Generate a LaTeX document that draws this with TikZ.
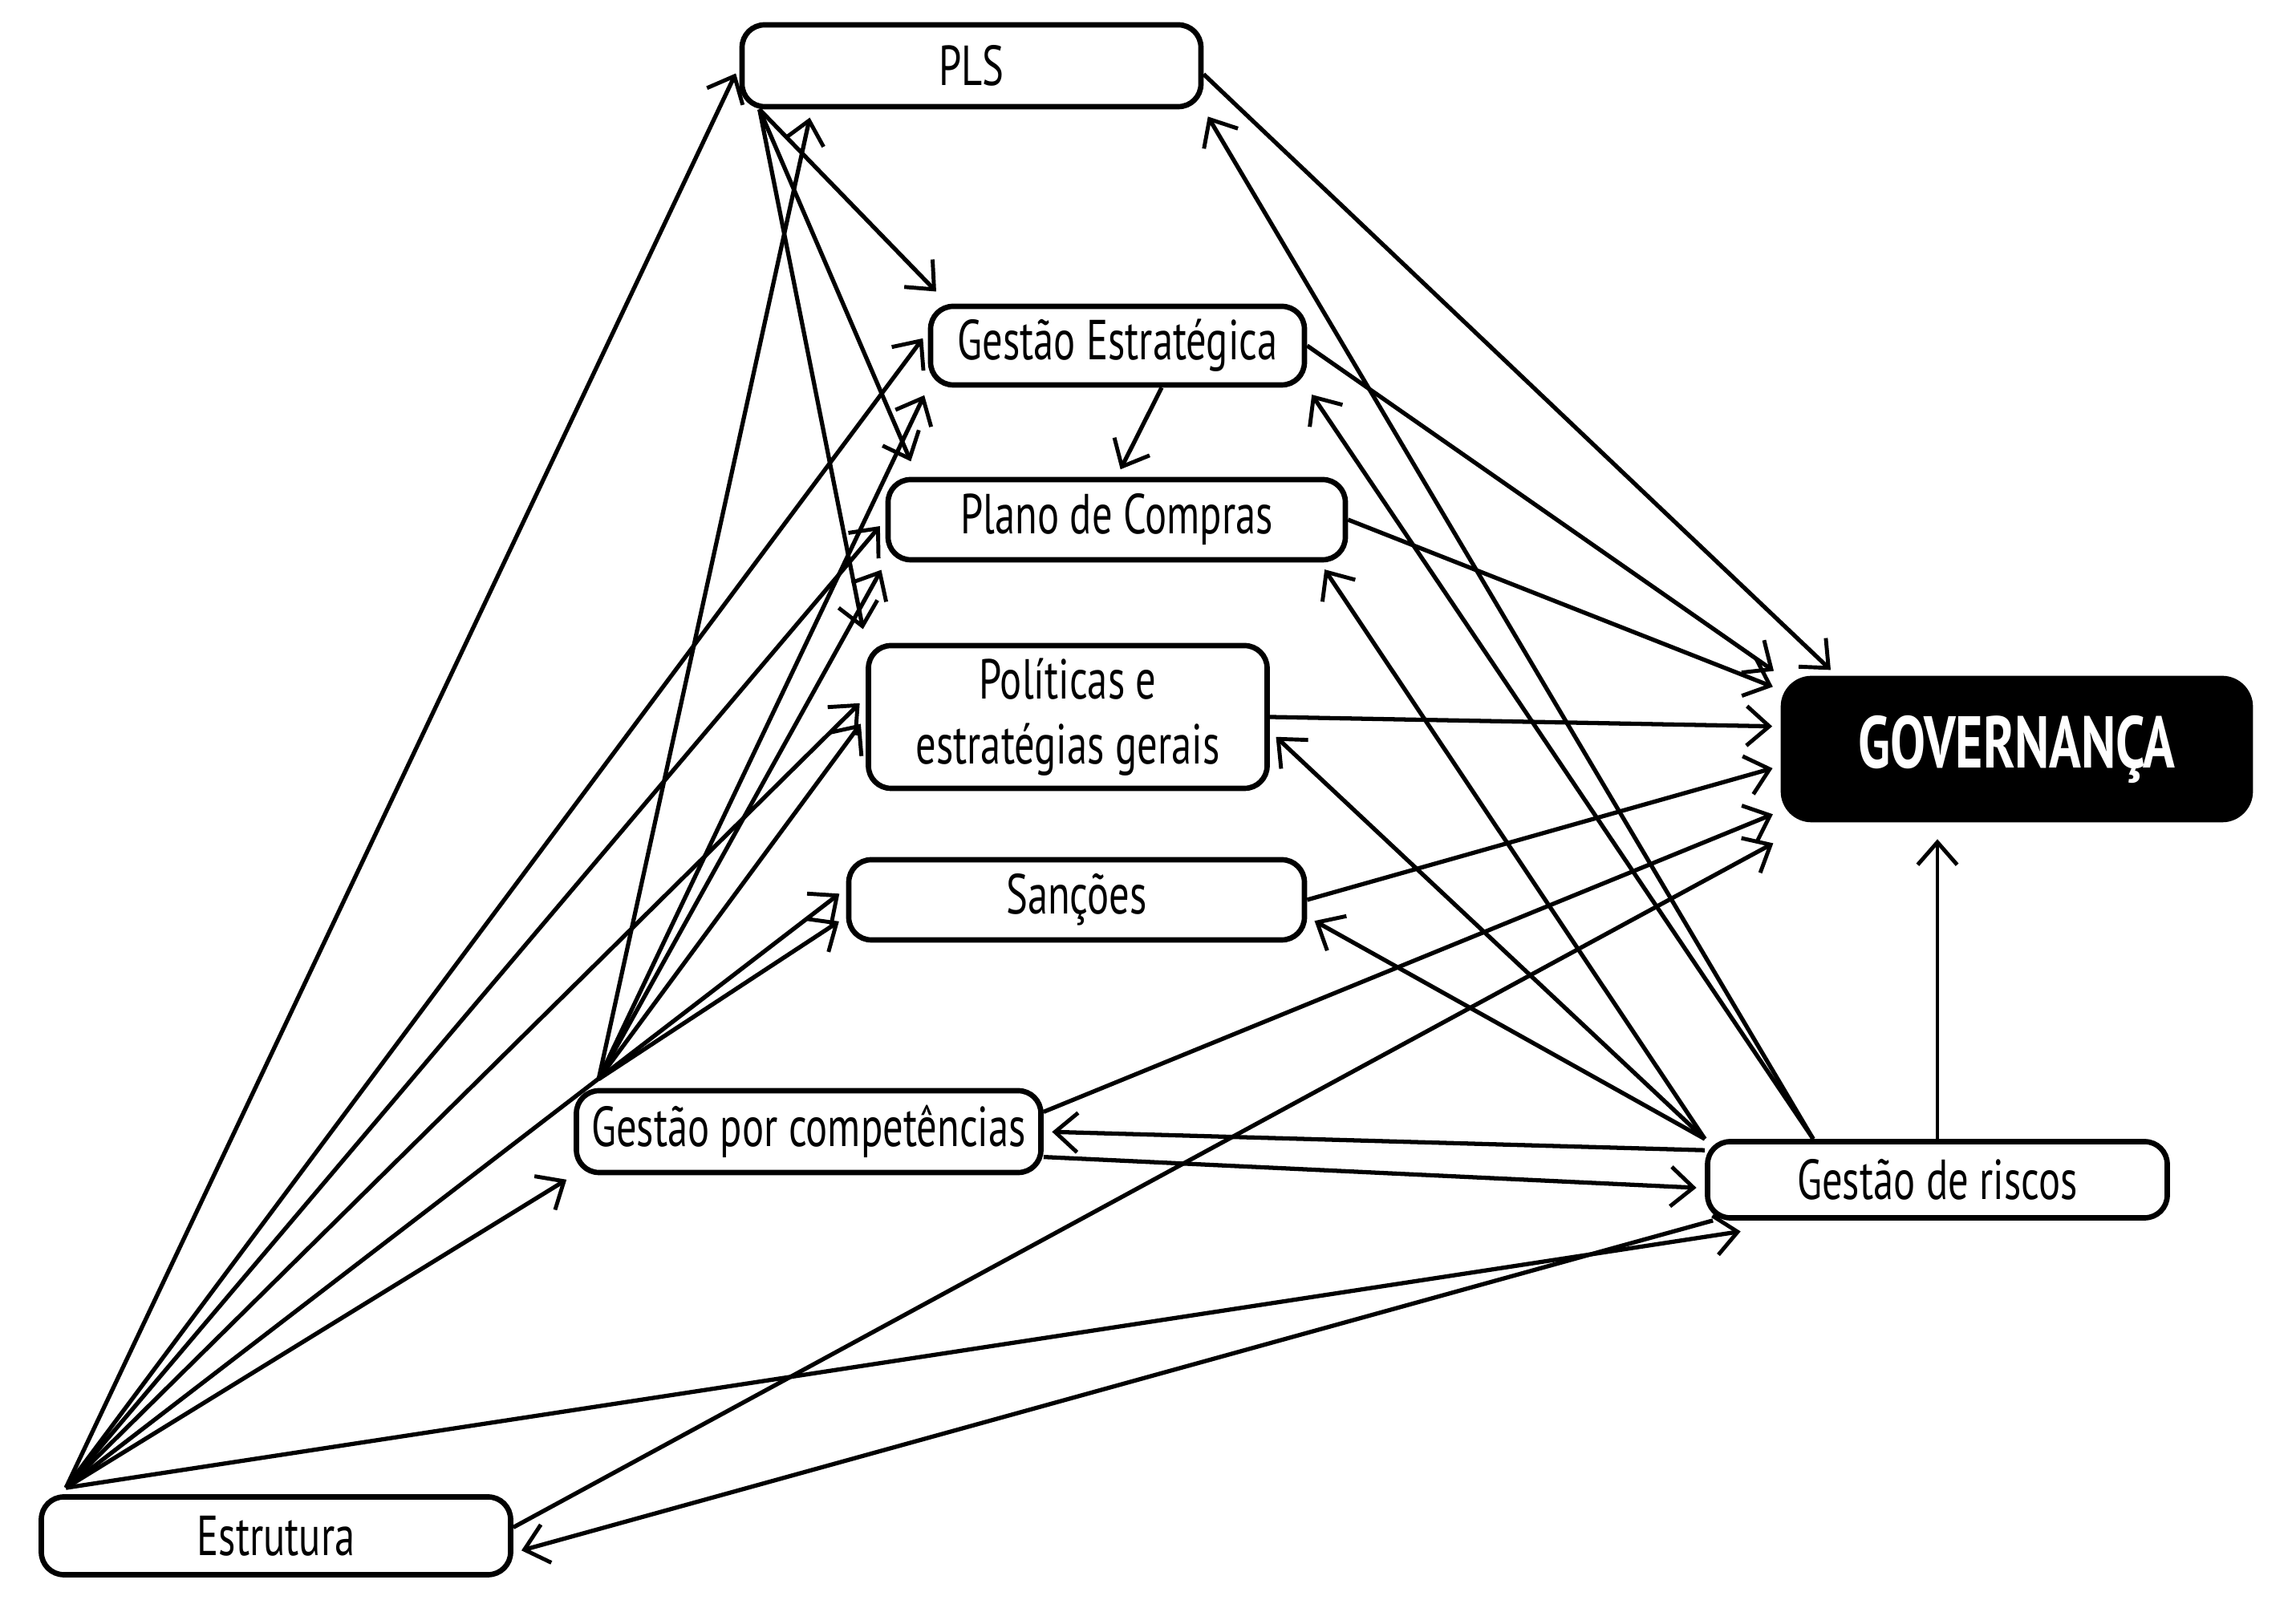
\documentclass[tikz,border=0pt]{standalone}
\usepackage{fontspec}
\setmainfont{PT Sans}[FakeStretch=0.72]
\usetikzlibrary{arrows.meta}

\tikzset{
  box/.style={draw, line width=1.9pt, rounded corners=8pt, fill=white,
    inner sep=0pt, font=\fontsize{20}{23}\selectfont},
  gov/.style={draw, fill=black, text=white, line width=1.9pt, rounded corners=10pt,
    inner sep=0pt, font=\fontsize{26}{30}\selectfont\bfseries},
  arr/.style={line width=1.5pt, shorten >=3pt,
    -{Straight Barb[length=8pt,width=14pt,line width=1.4pt]}},
}

\begin{document}
\begin{tikzpicture}
  \useasboundingbox (0,0) rectangle (28.62,20);
  \node[box, minimum width=5.72cm, minimum height=1.02cm] (PLS) at (12.11,19.18) {PLS};
  \node[box, minimum width=4.66cm, minimum height=0.98cm] (GE) at (13.93,15.69) {Gestão Estratégica};
  \node[box, minimum width=5.70cm, minimum height=1.00cm] (PC) at (13.92,13.52) {Plano de Compras};
  \node[box, minimum width=4.97cm, minimum height=1.78cm, align=center] (POL) at (13.31,11.06) {Políticas e\\estratégias gerais};
  \node[box, minimum width=5.68cm, minimum height=1.00cm] (SAN) at (13.42,8.78) {Sanções};
  \node[box, minimum width=5.79cm, minimum height=1.02cm] (GPC) at (10.08,5.89) {Gestão por competências};
  \node[box, minimum width=5.73cm, minimum height=0.95cm] (GR) at (24.15,5.29) {Gestão de riscos};
  \node[gov, minimum width=5.82cm, minimum height=1.76cm] (GOV) at (25.14,10.66) {GOVERNANÇA};
  \node[box, minimum width=5.85cm, minimum height=0.97cm] (EST) at (3.44,0.85) {Estrutura};

  \coordinate (EST0) at ([xshift=0.34cm,yshift=0.08cm]EST.north west);
  \coordinate (GPC0) at ([xshift=0.31cm,yshift=0.11cm]GPC.north west);
  \coordinate (PLS0) at ([xshift=0.25cm]PLS.south west);
  \coordinate (GR0) at (GR.north west);
  \coordinate (GR1) at ([xshift=1.35cm]GR.north west);

  % Estrutura
  \draw[arr] (EST0) -- (PLS.west);
  \draw[arr] (EST0) -- ([yshift=5pt]GE.west);
  \draw[arr] (EST0) -- (PC.west);
  \draw[arr] (EST0) -- ([yshift=7pt]POL.west);
  \draw[arr] (EST0) -- ([yshift=4pt]SAN.west);
  \draw[arr] (EST0) -- (GPC.south west);
  \draw[arr] (EST0) -- ([xshift=0.55cm,yshift=-0.12cm]GR.south west);
  \draw[arr] ([yshift=3pt]EST.east) -- ([yshift=-6pt]GOV.south west);

  % Gestao por competencias
  \draw[arr] (GPC0) -- ([xshift=0.9cm]PLS.south west);
  \draw[arr] (GPC0) -- (GE.south west);
  \draw[arr] (GPC0) -- (PC.south west);
  \draw[arr] (GPC0) -- (POL.west);
  \draw[arr] (GPC0) -- ([yshift=-6pt]SAN.west);
  \draw[arr] ([yshift=7pt]GPC.east) -- ([yshift=4pt]GOV.south west);
  \draw[arr] ([yshift=-9pt]GPC.east) -- ([yshift=-3pt]GR.west);

  % Gestao de riscos
  \draw[arr] ([yshift=-4pt]GR.north west) -- (GPC.east);
  \draw[arr] ([xshift=0.1cm]GR.south west) -- ([yshift=-6pt]EST.east);
  \draw[arr] (GR0) -- ([xshift=-0.35cm]PC.south east);
  \draw[arr] (GR0) -- ([yshift=-5pt]POL.east);
  \draw[arr] (GR0) -- ([yshift=-6pt]SAN.east);
  \draw[arr] (GR1) -- (PLS.south east);
  \draw[arr] (GR1) -- (GE.south east);
  \draw[arr, line width=1.1pt, shorten >=6pt] (GR.north) -- (GR.north |- GOV.south);

  % PLS
  \draw[arr, shorten >=6pt] (PLS0) -- ([xshift=0.25cm]GE.north west);
  \draw[arr, shorten >=6pt] (PLS0) -- ([xshift=0.4cm]PC.north west);
  \draw[arr, shorten >=5pt] (PLS0) -- (POL.north west);
  \draw[arr] ([yshift=-3pt]PLS.east) -- ([xshift=0.7cm]GOV.north west);

  % para a governanca
  \draw[arr] ([xshift=0.55cm]GE.south) -- (PC.north);
  \draw[arr] (GE.east) -- (GOV.north west);
  \draw[arr] (PC.east) -- ([yshift=-5pt]GOV.north west);
  \draw[arr] (POL.east) -- ([yshift=8pt]GOV.west);
  \draw[arr] (SAN.east) -- ([yshift=-6pt]GOV.west);
\end{tikzpicture}
\end{document}
